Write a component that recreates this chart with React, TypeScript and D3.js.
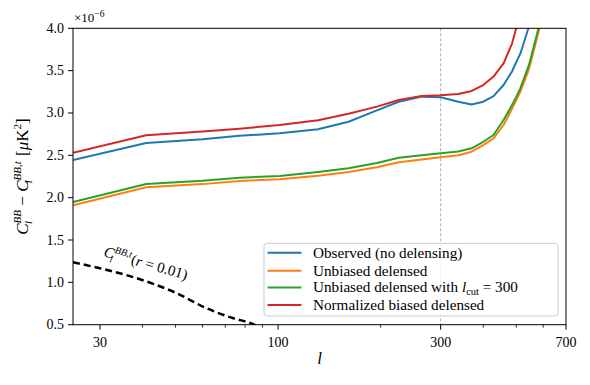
import React from "react";
import * as d3 from "d3";

const ell = [25, 41, 60, 77, 101, 131, 161, 195, 226, 264, 300, 338, 370, 400, 429, 459, 486, 500, 514, 543, 550, 581, 610];
const observed = [2.445, 2.646, 2.69, 2.73, 2.76, 2.807, 2.897, 3.03, 3.133, 3.193, 3.185, 3.133, 3.10, 3.133, 3.20, 3.33, 3.49, 3.60, 3.70, 4.0, 4.08, 4.4, 4.7];
const unbiased = [1.91, 2.123, 2.16, 2.197, 2.217, 2.26, 2.303, 2.36, 2.418, 2.45, 2.477, 2.50, 2.543, 2.62, 2.70, 2.858, 3.05, 3.15, 3.25, 3.50, 3.58, 3.95, 4.3];
const unbiasedCut = [1.95, 2.162, 2.20, 2.236, 2.256, 2.303, 2.347, 2.41, 2.472, 2.50, 2.524, 2.545, 2.583, 2.66, 2.74, 2.917, 3.094, 3.19, 3.29, 3.55, 3.626, 4.0, 4.35];
const normBiased = [2.53, 2.737, 2.78, 2.815, 2.858, 2.914, 2.992, 3.075, 3.153, 3.20, 3.21, 3.224, 3.26, 3.33, 3.43, 3.587, 3.82, 4.0, 4.2, 4.6, 4.7, 5.0, 5.3];

const tensorEll = [25, 30, 39.3, 50.4, 61.7, 73.9, 82.8, 90];
const tensorCl = [1.237, 1.166, 1.037, 0.871, 0.694, 0.576, 0.52, 0.45];

const majorTicks = [30, 100, 300, 700];
const minorTicks = [40, 50, 60, 70, 80, 90, 200, 400, 500, 600];
const yTicks = [0.5, 1.0, 1.5, 2.0, 2.5, 3.0, 3.5, 4.0];

const seriesNames = ["Observed (no delensing)", "Unbiased delensed", "Unbiased delensed with", "Normalized biased delensed"];
const seriesColors = ["#1f77b4", "#ff7f0e", "#2ca02c", "#d62728"];
const seriesData = [observed, unbiased, unbiasedCut, normBiased];

const L = 73, R = 566, T = 28.3, B = 324.7;
const FONT = "'Liberation Serif', serif";

export default function App() {
  const x = d3.scaleLog().domain([25, 700]).range([L, R]);
  const y = d3.scaleLinear().domain([0.5, 4.0]).range([B, T]);
  const line = d3.line<number>().x((_, i) => x(ell[i])).y((d) => y(d)).curve(d3.curveLinear);
  const tline = d3.line<number>().x((_, i) => x(tensorEll[i])).y((d) => y(d)).curve(d3.curveMonotoneX);
  const legendY = [252.7, 270.7, 287.6, 305];

  return (
    <svg width={590} height={385} style={{ position: "absolute", left: 0, top: 0 }} fontFamily={FONT}>
      <defs>
        <clipPath id="plotclip">
          <rect x={L} y={T} width={R - L} height={B - T} />
        </clipPath>
      </defs>
      <rect x={0} y={0} width={590} height={385} fill="white" />
      <line x1={x(300)} x2={x(300)} y1={T} y2={B} stroke="#999" strokeWidth={0.8} strokeDasharray="3,2" />
      <g clipPath="url(#plotclip)">
        {seriesData.map((s, i) => (
          <path key={i} d={line(s) || ""} fill="none" stroke={seriesColors[i]} strokeWidth={2} strokeLinejoin="round" />
        ))}
        <path d={tline(tensorCl) || ""} fill="none" stroke="black" strokeWidth={2.5} strokeDasharray="7,4" />
      </g>
      <rect x={L} y={T} width={R - L} height={B - T} fill="none" stroke="black" strokeWidth={1} />
      {yTicks.map((t) => (
        <g key={t}>
          <line x1={L - 5} x2={L} y1={y(t)} y2={y(t)} stroke="black" strokeWidth={1} />
          <text x={L - 9} y={y(t) + 4.5} textAnchor="end" fontSize={14}>{t.toFixed(1)}</text>
        </g>
      ))}
      {majorTicks.map((t) => (
        <g key={t}>
          <line x1={x(t)} x2={x(t)} y1={B} y2={B + 5} stroke="black" strokeWidth={1} />
          <text x={x(t)} y={B + 22} textAnchor="middle" fontSize={14}>{t}</text>
        </g>
      ))}
      {minorTicks.map((t) => (
        <line key={t} x1={x(t)} x2={x(t)} y1={B} y2={B + 3} stroke="black" strokeWidth={0.8} />
      ))}
      <text x={74} y={22} fontSize={13}>
        ×10<tspan dy={-5} fontSize={9.5}>−6</tspan>
      </text>
      <text x={(L + R) / 2} y={364} textAnchor="middle" fontSize={17} fontStyle="italic">l</text>
      <text transform={`translate(28, ${(T + B) / 2}) rotate(-90)`} textAnchor="middle" fontSize={17}>
        <tspan fontStyle="italic">C</tspan>
        <tspan fontSize={11} fontStyle="italic" dy={-7}>BB</tspan>
        <tspan fontSize={11} fontStyle="italic" dx={-14} dy={11}>l</tspan>
        <tspan dx={11} dy={-4}> − </tspan>
        <tspan fontStyle="italic">C</tspan>
        <tspan fontSize={11} fontStyle="italic" dy={-7}>BB,t</tspan>
        <tspan fontSize={11} fontStyle="italic" dx={-22} dy={11}>l</tspan>
        <tspan dx={20} dy={-4}>  [</tspan>
        <tspan fontStyle="italic">μ</tspan>
        <tspan>K</tspan>
        <tspan fontSize={11} dy={-7}>2</tspan>
        <tspan dy={7}>]</tspan>
      </text>
      <text transform={`translate(103, 256) rotate(16)`} fontSize={15}>
        <tspan fontStyle="italic">C</tspan>
        <tspan fontSize={10} fontStyle="italic" dy={-6}>BB,t</tspan>
        <tspan fontSize={10} fontStyle="italic" dx={-20} dy={10}>l</tspan>
        <tspan dx={18} dy={-4}>(</tspan>
        <tspan fontStyle="italic">r</tspan>
        <tspan> = 0.01)</tspan>
      </text>
      <rect x={264} y={243.3} width={294} height={72.7} rx={3} fill="white" fillOpacity={0.8} stroke="#ccc" strokeWidth={1} />
      {seriesNames.map((n, i) => (
        <g key={n}>
          <line x1={267.5} x2={301.5} y1={legendY[i]} y2={legendY[i]} stroke={seriesColors[i]} strokeWidth={2} />
          <text x={313} y={legendY[i] + 4.8} fontSize={15.2}>
            {n}
            {i === 2 ? (
              <>
                <tspan fontStyle="italic"> l</tspan>
                <tspan fontSize={10.5} dy={2.5}>cut</tspan>
                <tspan dy={-2.5}> = 300</tspan>
              </>
            ) : null}
          </text>
        </g>
      ))}
    </svg>
  );
}
